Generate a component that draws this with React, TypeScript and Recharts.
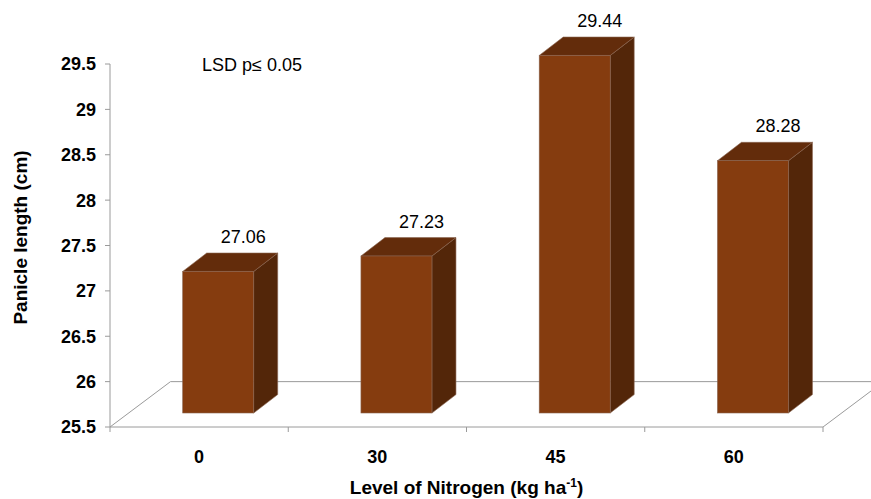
import React from "react";
import {
  Bar,
  BarChart,
  Customized,
  LabelList,
  ReferenceArea,
  XAxis,
  YAxis,
} from "recharts";

const nitrogenLevels = ["0", "30", "45", "60"];
const panicleLength = [27.06, 27.23, 29.44, 28.28];
const yTicks = [25.5, 26, 26.5, 27, 27.5, 28, 28.5, 29, 29.5];

const data = nitrogenLevels.map((level, i) => ({
  level,
  length: panicleLength[i],
}));

const FONT = "Arial, 'Liberation Sans', sans-serif";
const AXIS_GREY = "#9a9a9a";

// pseudo-3D offsets: where the bar's front face sits on the floor, and the bar depth
const FRONT_DX = 18.7;
const FRONT_DY = -14;
const DEPTH_DX = 24;
const DEPTH_DY = -18.4;

const FACE = "#853C0F";
const TOP = "#632C0B";
const SIDE = "#532609";
const EDGE = "#8a6450";

function PrismBar(props: any) {
  const { x, y, width, height } = props;
  const x0 = x + FRONT_DX;
  const top = y + FRONT_DY;
  const bottom = y + height + FRONT_DY;
  const x1 = x0 + width;
  const pts = (arr: number[][]) => arr.map((p) => p.join(",")).join(" ");
  return (
    <g>
      <polygon
        points={pts([
          [x1, top],
          [x1 + DEPTH_DX, top + DEPTH_DY],
          [x1 + DEPTH_DX, bottom + DEPTH_DY],
          [x1, bottom],
        ])}
        fill={SIDE}
        stroke={EDGE}
        strokeWidth={0.6}
      />
      <polygon
        points={pts([
          [x0, top],
          [x0 + DEPTH_DX, top + DEPTH_DY],
          [x1 + DEPTH_DX, top + DEPTH_DY],
          [x1, top],
        ])}
        fill={TOP}
        stroke={EDGE}
        strokeWidth={0.6}
      />
      <rect
        x={x0}
        y={top}
        width={width}
        height={bottom - top}
        fill={FACE}
        stroke={EDGE}
        strokeWidth={0.6}
      />
    </g>
  );
}

// floor of the 3D plot: front edge is the category axis, ticks sit between categories
function Floor(props: any) {
  const { x, y, width, height } = props;
  const dx = height * (60 / 45);
  const front = y + height;
  const n = nitrogenLevels.length;
  return (
    <g stroke={AXIS_GREY} strokeWidth={1} fill="none">
      <line x1={x} y1={front} x2={x + width} y2={front} />
      <line x1={x + dx} y1={y} x2={x + width + dx} y2={y} />
      <line x1={x} y1={front} x2={x + dx} y2={y} />
      <line x1={x + width} y1={front} x2={x + width + dx} y2={y} />
      {Array.from({ length: n + 1 }, (_, i) => (
        <line
          key={i}
          x1={x + (i * width) / n}
          y1={front}
          x2={x + (i * width) / n}
          y2={front + 5}
        />
      ))}
    </g>
  );
}

function ValueLabel(props: any) {
  const { x, y, width, value } = props;
  return (
    <text
      x={x + width / 2 + FRONT_DX + 25}
      y={y + FRONT_DY + DEPTH_DY - 10}
      textAnchor="middle"
      fontFamily={FONT}
      fontSize={18}
      fill="#000"
    >
      {Number(value).toFixed(2)}
    </text>
  );
}

function CategoryTick(props: any) {
  const { x, y, payload } = props;
  return (
    <text
      x={x}
      y={y + 36}
      textAnchor="middle"
      fontFamily={FONT}
      fontSize={18}
      fontWeight="bold"
      fill="#000"
    >
      {payload.value}
    </text>
  );
}

export default function App() {
  return (
    <div style={{ position: "absolute", left: 0, top: 0 }}>
      <BarChart
        width={871}
        height={499}
        data={data}
        margin={{ top: 64, right: 48, bottom: 0, left: 0 }}
      >
        <ReferenceArea y1={25.5} y2={26} ifOverflow="visible" shape={<Floor />} />
        <XAxis
          dataKey="level"
          axisLine={false}
          tickLine={false}
          tickSize={0}
          tickMargin={0}
          height={72}
          tick={<CategoryTick />}
          label={{
            content: (p: any) => {
              const vb = p.viewBox;
              return (
                <text
                  x={vb.x + vb.width / 2}
                  y={494}
                  textAnchor="middle"
                  fontFamily={FONT}
                  fontSize={19}
                  fontWeight="bold"
                  fill="#000"
                >
                  Level of Nitrogen (kg ha
                  <tspan fontSize={12} dy={-7}>
                    -1
                  </tspan>
                  <tspan dy={7}>)</tspan>
                </text>
              );
            },
          }}
        />
        <YAxis
          type="number"
          domain={[25.5, 29.5]}
          ticks={yTicks}
          interval={0}
          width={110}
          axisLine={{ stroke: AXIS_GREY }}
          tickLine={{ stroke: AXIS_GREY }}
          tickSize={5}
          tickMargin={9}
          tick={{ fontFamily: FONT, fontSize: 18, fontWeight: "bold", fill: "#000" }}
          label={{
            content: (p: any) => {
              const vb = p.viewBox;
              const cy = vb.y + vb.height / 2 - 8;
              return (
                <text
                  x={20}
                  y={cy}
                  transform={`rotate(-90, 20, ${cy})`}
                  textAnchor="middle"
                  dominantBaseline="central"
                  fontFamily={FONT}
                  fontSize={19}
                  fontWeight="bold"
                  fill="#000"
                >
                  Panicle length (cm)
                </text>
              );
            },
          }}
        />
        <Bar
          dataKey="length"
          barSize={71}
          shape={<PrismBar />}
          isAnimationActive={false}
        >
          <LabelList dataKey="length" content={<ValueLabel />} />
        </Bar>
        <Customized
          component={() => (
            <text x={202} y={71} fontFamily={FONT} fontSize={18} fill="#000">
              LSD p≤ 0.05
            </text>
          )}
        />
      </BarChart>
    </div>
  );
}
